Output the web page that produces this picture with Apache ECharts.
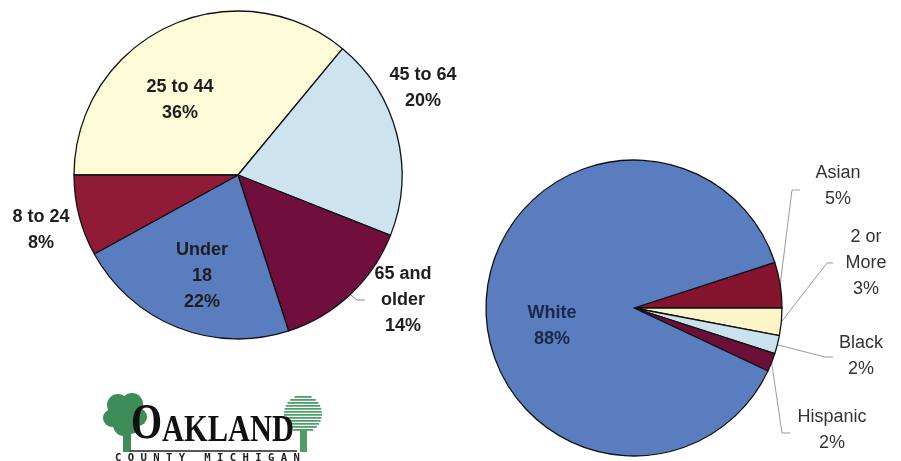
<!DOCTYPE html>
<html><head><meta charset="utf-8">
<script src="https://cdn.jsdelivr.net/npm/echarts@6/dist/echarts.min.js"></script>
<style>html,body{margin:0;padding:0;background:#fff}#c{width:901px;height:461px}</style>
</head><body><div id="c"></div>
<script>
// ---- data ----
const ageCategories = ['25 to 44', '45 to 64', '65 and older', 'Under 18', '8 to 24'];
const ageLabelNames = ['25 to 44', '45 to 64', '65 and\nolder', 'Under\n18', '8 to 24'];
const ageValues = [36, 20, 14, 22, 8];

const raceCategories = ['Asian', '2 or More', 'Black', 'Hispanic', 'White'];
const raceLabelNames = ['Asian', '2 or\nMore', 'Black', 'Hispanic', 'White'];
const raceValues = [5, 3, 2, 2, 88];

// ---- styles / layout ----
const ageColors = ['#FEFCD8', '#CDE3F0', '#700F3E', '#5A7DBF', '#8F1B36'];
const raceColors = ['#85152F', '#FDF5C8', '#C9E2EE', '#6C0F38', '#5A7DBF'];
const ageLabelPos = [[180, 100], [423, 88], [403, 300], [202, 276], [41, 230]];
const ageLine = [null, null, [[357, 300], [365, 300]], null, null];
const raceLabelPos = [[838, 186], [866, 263], [861, 356], [832, 430], [552, 326]];
const raceLine = [[[792, 190], [800, 190]], [[827, 263], [833, 263]], [[825, 357], [833, 357]], [[782, 433], [790, 433]], null];

const FONT = '"Liberation Sans", Arial, sans-serif';

function mkLayout(pos, lines) {
  return function (p) {
    const i = p.dataIndex;
    const r = { x: pos[i][0], y: pos[i][1], align: 'center', verticalAlign: 'middle' };
    if (lines[i] && p.labelLinePoints) {
      r.labelLinePoints = [p.labelLinePoints[0], lines[i][0], lines[i][1]];
    }
    return r;
  };
}

const ageData = ageCategories.map((c, i) => ({
  name: c, value: ageValues[i],
  itemStyle: { color: ageColors[i] },
  labelLine: { show: !!ageLine[i], lineStyle: { color: '#8a8a8a', width: 1 } },
  label: { formatter: ageLabelNames[i] + '\n' + ageValues[i] + '%' }
}));
const raceData = raceCategories.map((c, i) => ({
  name: c, value: raceValues[i],
  itemStyle: { color: raceColors[i] },
  labelLine: { show: !!raceLine[i], lineStyle: { color: '#9a9a9a', width: 1 } },
  label: i === 4
    ? { formatter: raceLabelNames[i] + '\n' + raceValues[i] + '%', fontWeight: 'bold', color: '#1c2848' }
    : { formatter: raceLabelNames[i] + '\n' + raceValues[i] + '%' }
}));

// logo graphics
const logo = [];
const treeL = '#3E8C57', treeR = '#4E9E68';
[[118, 405, 11], [132, 404, 11], [112, 418, 9], [138, 417, 9], [124, 425, 11], [125, 413, 14], [131, 425, 9]].forEach(c => {
  logo.push({ type: 'circle', shape: { cx: c[0], cy: c[1], r: c[2] }, style: { fill: treeL } });
});
logo.push({ type: 'rect', shape: { x: 123, y: 428, width: 8, height: 24 }, style: { fill: treeL } });
for (let y = 396; y <= 431; y += 3) {
  const cy = 413, r = 19, dy = y - cy;
  const h = Math.sqrt(Math.max(0, r * r - dy * dy));
  logo.push({ type: 'rect', shape: { x: 303 - h, y: y, width: 2 * h, height: 1.8 }, style: { fill: treeR } });
}
logo.push({ type: 'rect', shape: { x: 300, y: 430, width: 7, height: 22 }, style: { fill: treeR } });
logo.push({
  type: 'text', x: 131, y: 450, scaleX: 0.8,
  style: {
    text: '{a|O}{b|AKLAND}', verticalAlign: 'bottom',
    rich: {
      a: { fontFamily: '"Liberation Serif", serif', fontWeight: 'bold', fontSize: 50, fill: '#111', verticalAlign: 'bottom' },
      b: { fontFamily: '"Liberation Serif", serif', fontWeight: 'bold', fontSize: 38, fill: '#111', verticalAlign: 'bottom' }
    }
  }
});
logo.push({ type: 'line', shape: { x1: 130, y1: 451, x2: 297, y2: 451 }, style: { stroke: '#222', lineWidth: 1.5 } });
logo.push({
  type: 'text', x: 115, y: 452.5,
  style: { text: 'C O U N T Y   M I C H I G A N', fontFamily: '"DejaVu Sans Mono", monospace', fontWeight: 'bold', fontSize: 10.6, fill: '#222', verticalAlign: 'top' }
});

const chart = echarts.init(document.getElementById('c'), null, { renderer: 'canvas' });
chart.setOption({
  backgroundColor: '#ffffff',
  animation: false,
  graphic: logo,
  series: [
    {
      type: 'pie', center: [238, 175], radius: 164, startAngle: 180, clockwise: true,
      avoidLabelOverlap: false, silent: true,
      itemStyle: { borderColor: '#111', borderWidth: 1.3 },
      label: { show: true, position: 'outside', fontFamily: FONT, fontWeight: 'bold', fontSize: 18, lineHeight: 26, color: '#1e1e1e' },
      labelLine: { length: 6, length2: 6 },
      labelLayout: mkLayout(ageLabelPos, ageLine),
      emphasis: { disabled: true },
      data: ageData
    },
    {
      type: 'pie', center: [634, 308], radius: 148, startAngle: 18, clockwise: true,
      avoidLabelOverlap: false, silent: true,
      itemStyle: { borderColor: '#111', borderWidth: 1.3 },
      label: { show: true, position: 'outside', fontFamily: FONT, fontSize: 18, lineHeight: 26, color: '#333' },
      labelLine: { length: 6, length2: 6 },
      labelLayout: mkLayout(raceLabelPos, raceLine),
      emphasis: { disabled: true },
      data: raceData
    }
  ]
});
</script>
</body></html>
